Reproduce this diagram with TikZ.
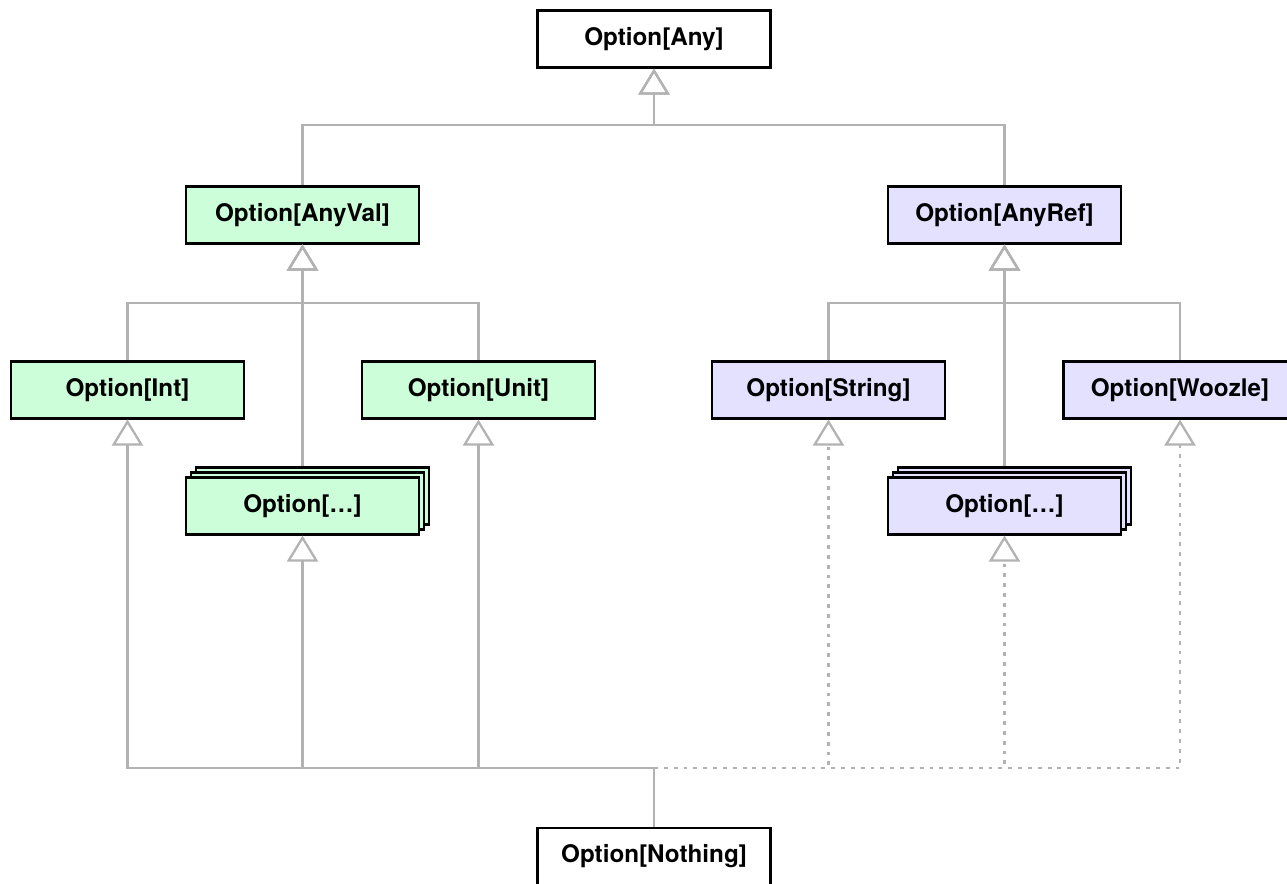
\documentclass[tikz,border=0pt]{standalone}
\usepackage{fontspec}
\setsansfont{TeX Gyre Heros}
\usetikzlibrary{arrows.meta,shadows}
\definecolor{valgreen}{RGB}{204,255,217}
\definecolor{reflilac}{RGB}{228,224,255}
\definecolor{linkgray}{RGB}{178,178,178}

\begin{document}
\begin{tikzpicture}[x=0.02cm,y=-0.02cm,
    box/.style={draw,line width=1.2pt,minimum width=4.66cm,minimum height=1.14cm,inner sep=0pt,
        font=\sffamily\bfseries\fontsize{13.8}{16}\selectfont},
    valbox/.style={box,fill=valgreen},
    refbox/.style={box,fill=reflilac},
    many/.style={double copy shadow={shadow xshift=0.1cm,shadow yshift=0.1cm}},
    link/.style={draw=linkgray,line width=1.3pt,-{Triangle[open,length=0.52cm,width=0.62cm]}},
    weak/.style={link,dash pattern=on 2.2pt off 3.4pt}]
    \useasboundingbox (0,0) rectangle (1287,884);
    \node[box] (any) at (654,39) {Option[Any]};
    \node[valbox] (anyval) at (302.5,215) {Option[AnyVal]};
    \node[refbox] (anyref) at (1004.5,215) {Option[AnyRef]};
    \node[valbox] (int) at (127.5,390) {Option[Int]};
    \node[valbox] (unit) at (478.5,390) {Option[Unit]};
    \node[valbox,many] (valdots) at (302.5,506) {Option[…]};
    \node[refbox] (string) at (828.5,390) {Option[String]};
    \node[refbox] (woozle) at (1180,390) {Option[Woozle]};
    \node[refbox,many] (refdots) at (1004.5,506) {Option[…]};
    \node[box] (nothing) at (654,856.5) {Option[Nothing]};
    \coordinate (topbus) at (654,125);
    \coordinate (valbus) at (302.5,303);
    \coordinate (refbus) at (1004.5,303);
    \coordinate (botbus) at (654,768);
    \draw[link] (anyval.north) |- (topbus) -- (any.south);
    \draw[link] (anyref.north) |- (topbus) -- (any.south);
    \draw[link] (int.north) |- (valbus) -- (anyval.south);
    \draw[link] (unit.north) |- (valbus) -- (anyval.south);
    \draw[link] ([yshift=0.2cm]valdots.north) -- (anyval.south);
    \draw[link] (string.north) |- (refbus) -- (anyref.south);
    \draw[link] (woozle.north) |- (refbus) -- (anyref.south);
    \draw[link] ([yshift=0.2cm]refdots.north) -- (anyref.south);
    % Nothing is below everything
    \draw[weak] (nothing.north) -- (botbus) -| (string.south);
    \draw[weak] (nothing.north) -- (botbus) -| (refdots.south);
    \draw[weak] (nothing.north) -- (botbus) -| (woozle.south);
    \draw[link] (nothing.north) -- (botbus) -| (int.south);
    \draw[link] (nothing.north) -- (botbus) -| (unit.south);
    \draw[link] (nothing.north) -- (botbus) -| (valdots.south);
\end{tikzpicture}
\end{document}
